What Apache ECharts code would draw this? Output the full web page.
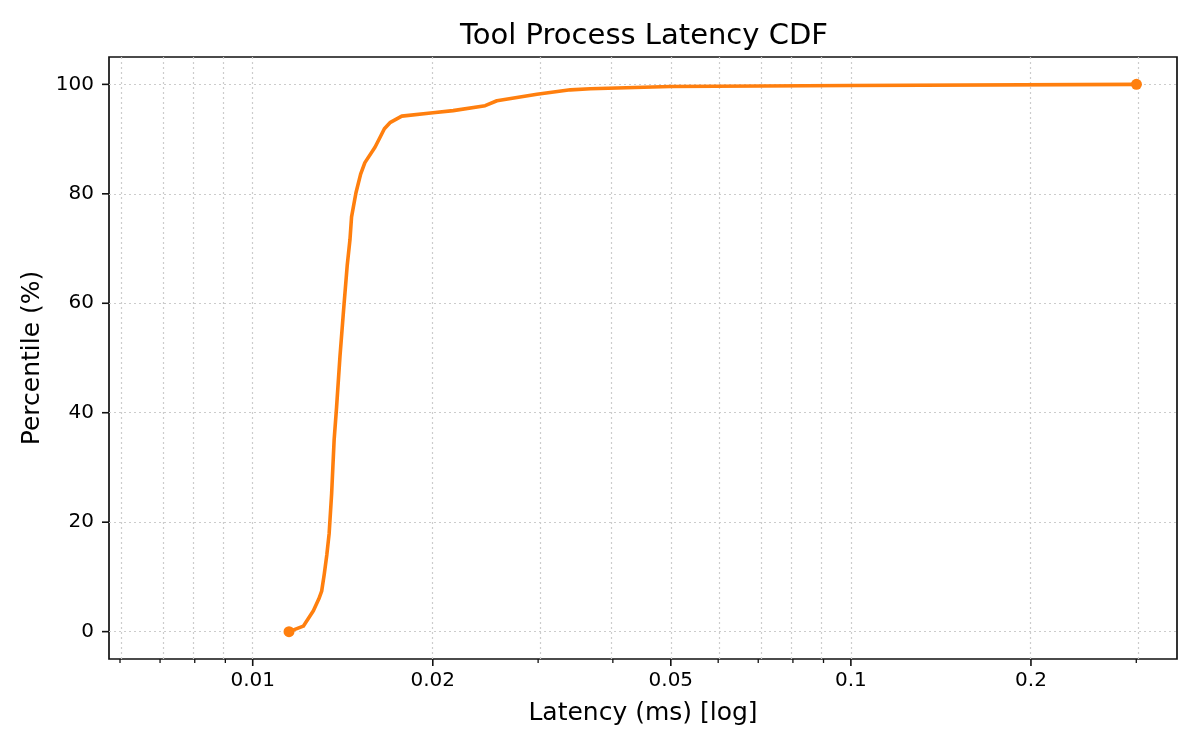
<!DOCTYPE html>
<html>
<head>
<meta charset="utf-8">
<script src="https://cdn.jsdelivr.net/npm/echarts@6/dist/echarts.min.js"></script>
<style>html,body{margin:0;padding:0;background:#fff}#c{width:1200px;height:750px}</style>
</head>
<body>
<div id="c"></div>
<script>
// ---- data ----
const latencyMs = [0.01150,0.01215,0.01263,0.01290,0.01304,0.01317,0.01330,0.01342,0.01355,0.01368,0.01381,0.01399,0.01420,0.01439,0.01454,0.01463,0.01488,0.01515,0.01540,0.01601,0.01632,0.01660,0.01696,0.01775,0.02002,0.02163,0.02447,0.02560,0.02987,0.03396,0.03668,0.04994,0.1,0.3002];
const percentile = [0,1.0,3.8,6.0,7.4,10.5,14,17.9,25.2,35,41,50.2,59.3,67,71.6,75.8,80.2,83.6,85.7,88.5,90.3,91.9,93,94.2,94.8,95.2,96.1,97.0,98.2,99.0,99.2,99.6,99.8,100];
const xMajorTicks = [0.01,0.02,0.05,0.1,0.2];
const xMajorLabels = ['0.01','0.02','0.05','0.1','0.2'];
const xMinorTicks = [0.006,0.007,0.008,0.009,0.03,0.04,0.06,0.07,0.08,0.09,0.3];
const yTicks = [0,20,40,60,80,100];
const xLimits = [0.005751,0.3509];
const yLimits = [-5,105];

const L = v => Math.log10(v);
const majorLog = xMajorTicks.map(L);
const minorLog = xMinorTicks.map(L);
const seriesData = latencyMs.map((x,i)=>[L(x), percentile[i]]);
const gridStyle = {color:'#cccccc', width:1.2, type:[2,3]};
const gridLines = [].concat(
  majorLog.concat(minorLog).map(v=>({xAxis:v})),
  yTicks.map(v=>({yAxis:v}))
);
const font = 'DejaVu Sans';
const tickColor = '#111';

// tick marks drawn through the axes' scales (custom series)
function xTickSeries(values, len, w){
  return {
    type:'custom', clip:false, silent:true, z:6,
    data: values.map(v=>[v, yLimits[0]]),
    renderItem:function(params, api){
      const p = api.coord([api.value(0), api.value(1)]);
      return {type:'line', shape:{x1:p[0], y1:p[1], x2:p[0], y2:p[1]+len}, style:{stroke:tickColor, lineWidth:w}};
    }
  };
}
function yTickSeries(values, len, w){
  return {
    type:'custom', clip:false, silent:true, z:6,
    data: values.map(v=>[L(xLimits[0]), v]),
    renderItem:function(params, api){
      const p = api.coord([api.value(0), api.value(1)]);
      return {type:'line', shape:{x1:p[0], y1:p[1], x2:p[0]-len, y2:p[1]}, style:{stroke:tickColor, lineWidth:w}};
    }
  };
}

const chart = echarts.init(document.getElementById('c'), null, {renderer:'canvas'});
chart.setOption({
  animation:false,
  backgroundColor:'#fff',
  title:{text:'Tool Process Latency CDF', left:639, textAlign:'center', top:17,
    textStyle:{fontFamily:font, fontSize:29, fontWeight:'normal', color:'#000'}},
  grid:{left:109, right:23, top:57, bottom:91, show:true, borderColor:tickColor, borderWidth:1.7, backgroundColor:'transparent'},
  xAxis:{
    type:'value', min:L(xLimits[0]), max:L(xLimits[1]), position:'bottom',
    name:'Latency (ms) [log]', nameLocation:'middle', nameGap:42,
    nameTextStyle:{fontFamily:font, fontSize:25, color:'#000'},
    axisLine:{show:false, onZero:false},
    axisTick:{show:false},
    axisLabel:{show:true, customValues:majorLog.slice(), margin:12, fontFamily:font, fontSize:20, color:'#000',
      formatter:function(v){let bi=0,bd=1e9;majorLog.forEach((m,i)=>{const d=Math.abs(m-v);if(d<bd){bd=d;bi=i;}});return xMajorLabels[bi];}},
    splitLine:{show:false}
  },
  yAxis:{
    type:'value', min:yLimits[0], max:yLimits[1],
    name:'Percentile (%)', nameLocation:'middle', nameGap:64, nameRotate:90,
    nameTextStyle:{fontFamily:font, fontSize:25, color:'#000'},
    axisLine:{show:false, onZero:false},
    axisTick:{show:false},
    axisLabel:{show:true, customValues:yTicks.slice(), margin:15, fontFamily:font, fontSize:20, color:'#000'},
    splitLine:{show:false}
  },
  series:[{
    type:'line', data:seriesData, z:1, silent:true, symbol:'none',
    lineStyle:{opacity:0},
    markLine:{silent:true, symbol:['none','none'], label:{show:false}, lineStyle:gridStyle, emphasis:{disabled:true}, data:gridLines, animation:false}
  },
  xTickSeries(majorLog, 7, 1.6),
  xTickSeries(minorLog, 4, 1.3),
  yTickSeries(yTicks, 7, 1.6),
  {
    type:'line', data:seriesData, z:5, smooth:false,
    lineStyle:{color:'#ff7f0e', width:3.6, join:'round', cap:'round'},
    itemStyle:{color:'#ff7f0e'},
    symbol:'circle', symbolSize:function(v,p){return (p.dataIndex===0||p.dataIndex===latencyMs.length-1)?11:0;},
    showSymbol:true
  }]
});
</script>
</body>
</html>
